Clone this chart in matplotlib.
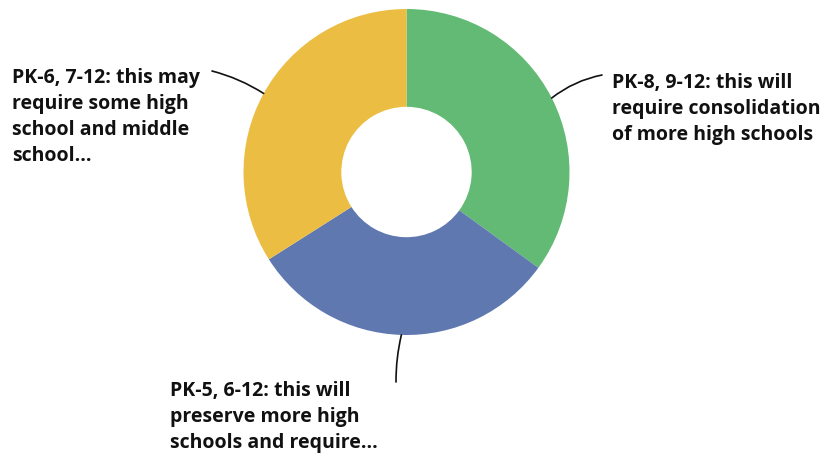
import matplotlib
matplotlib.use("Agg")
import matplotlib.pyplot as plt
import numpy as np

# Data
labels = [
    "PK-8, 9-12: this will\nrequire consolidation\nof more high schools",
    "PK-5, 6-12: this will\npreserve more high\nschools and require...",
    "PK-6, 7-12: this may\nrequire some high\nschool and middle\nschool...",
]
values = [35, 31, 34]
colors = ["#62BA74", "#5F78B0", "#EBBE43"]

W, H = 827, 457
fig = plt.figure(figsize=(W / 100, H / 100), dpi=100)
fig.patch.set_facecolor("white")

cx, cy, R = 406.5, 172.0, 163.0  # pixel layout (from top)
ax = fig.add_axes([(cx - R) / W, (H - cy - R) / H, 2 * R / W, 2 * R / H])
ax.axis("off")

wedges, _ = ax.pie(values, colors=colors, startangle=90, counterclock=False,
                   radius=1.0, wedgeprops=dict(width=0.6, linewidth=0))
ax.set_xlim(-1, 1)
ax.set_ylim(-1, 1)
ax.set_aspect("auto")

FONT = "Open Sans"
fs = 14
# label positions (pixels from top-left): x, first baseline, leader end
text_pos = [
    (612, 88, (602, 75)),
    (170, 396, (396, 382)),
    (12, 83, (212, 71)),
]
rads = [0.12, -0.06, -0.08]
for w, lab, (tx, ty, end), rad in zip(wedges, labels, text_pos, rads):
    ang = np.deg2rad((w.theta1 + w.theta2) / 2)
    xa, ya = np.cos(ang), np.sin(ang)
    ax.annotate("", xy=(xa, ya), xycoords="data",
                xytext=(end[0], H - end[1]), textcoords="figure pixels",
                arrowprops=dict(arrowstyle="-", color="#111111", lw=1.2,
                                shrinkA=0, shrinkB=0,
                                connectionstyle=f"arc3,rad={rad}"))
    for i, line in enumerate(lab.split("\n")):
        fig.text(tx / W, (H - (ty + i * 26)) / H, line, ha="left", va="baseline",
                 fontsize=fs, fontfamily=FONT, fontweight="bold", color="#111111")

fig.savefig("out.png", dpi=100, facecolor="white")
